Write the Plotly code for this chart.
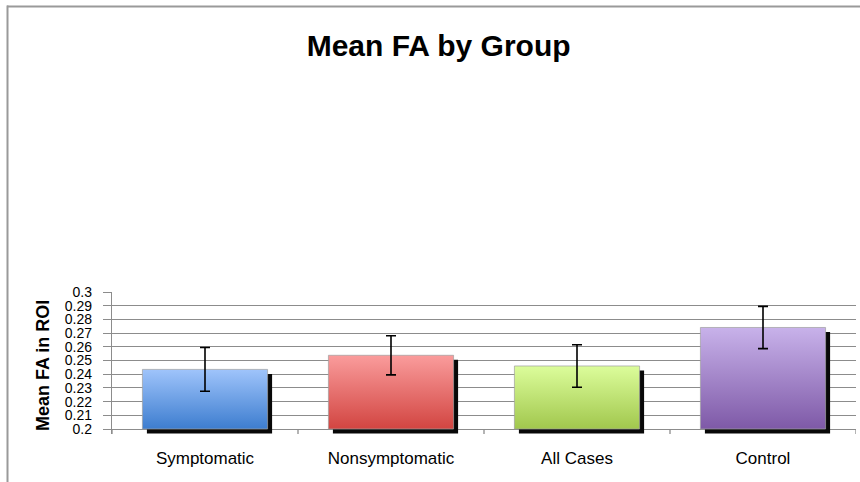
import plotly.graph_objects as go

# ---- data ----
categories = ["Symptomatic", "Nonsymptomatic", "All Cases", "Control"]
mean_fa = [0.2435, 0.2538, 0.2460, 0.2741]
err_fa = [0.0160, 0.0143, 0.0155, 0.0154]
ytick_vals = [0.2, 0.21, 0.22, 0.23, 0.24, 0.25, 0.26, 0.27, 0.28, 0.29, 0.3]
ytick_text = ["0.2", "0.21", "0.22", "0.23", "0.24", "0.25", "0.26", "0.27", "0.28", "0.29", "0.3"]

top_colors = ["#9fc4fb", "#fa9c9c", "#dcfd9b", "#c8b2ea"]
bottom_colors = ["#3d7dcf", "#d24541", "#a1c74d", "#7e59a7"]

FONT = "Liberation Sans"
GRID = "#8c8c8c"
Y_MIN, Y_MAX = 0.2, 0.3
Y_LOW = 0.19635          # range bottom (slightly below 0.2 for shadow/ticks)
BAR_W = 0.673
SH_DX, SH_DY = 0.0242, 0.0033

fig = go.Figure()
xs = list(range(len(categories)))

# shadows
for i, v in enumerate(mean_fa):
    x0 = xs[i] - BAR_W / 2 + SH_DX
    x1 = xs[i] + BAR_W / 2 + SH_DX
    y0 = Y_MIN - SH_DY
    y1 = v - SH_DY
    fig.add_trace(go.Scatter(
        x=[x0, x1, x1, x0, x0], y=[y0, y0, y1, y1, y0],
        fill="toself", fillcolor="#080808", mode="lines",
        line=dict(width=0), hoverinfo="skip", showlegend=False))

# bars with vertical gradient
for i, v in enumerate(mean_fa):
    x0 = xs[i] - BAR_W / 2
    x1 = xs[i] + BAR_W / 2
    fig.add_trace(go.Scatter(
        x=[x0, x1, x1, x0, x0], y=[Y_MIN, Y_MIN, v, v, Y_MIN],
        fill="toself", mode="lines",
        fillgradient=dict(type="vertical", start=Y_MIN, stop=v,
                          colorscale=[[0, bottom_colors[i]], [1, top_colors[i]]]),
        line=dict(width=1, color="rgba(160,160,160,0.7)"),
        name=categories[i], hoverinfo="skip", showlegend=False))

# error bars
fig.add_trace(go.Scatter(
    x=xs, y=mean_fa, mode="markers",
    marker=dict(size=1, opacity=0),
    error_y=dict(type="data", array=err_fa, visible=True,
                 color="black", thickness=1.6, width=5),
    showlegend=False, hovertemplate="%{text}: %{y}<extra></extra>",
    text=categories))

# category boundary ticks on the x axis
bounds = [b - 0.5 for b in range(len(categories) + 1)]
for b in bounds:
    fig.add_shape(type="line", xref="x", yref="y", x0=b, x1=b,
                  y0=Y_MIN, y1=Y_LOW, line=dict(color=GRID, width=1.3))

# outer chart frame (top and left edges)
fig.add_shape(type="line", xref="paper", yref="paper",
              xsizemode="pixel", ysizemode="pixel", xanchor=0, yanchor=1,
              x0=-105, x1=760, y0=285.5, y1=285.5,
              line=dict(color="#9a9a9a", width=2))
fig.add_shape(type="line", xref="paper", yref="paper",
              xsizemode="pixel", ysizemode="pixel", xanchor=0, yanchor=1,
              x0=-104.5, x1=-104.5, y0=286.5, y1=-200,
              line=dict(color="#9a9a9a", width=2))

fig.update_layout(
    width=860, height=482,
    margin=dict(l=112, r=4, t=292, b=48),
    paper_bgcolor="white", plot_bgcolor="white",
    title=dict(text="<b>Mean FA by Group</b>", x=0.51, xanchor="center",
               y=1 - 45 / 482, yanchor="middle", yref="container",
               font=dict(family=FONT, size=30, color="black")),
    xaxis=dict(range=[-0.5, 3.5], tickvals=xs, ticktext=categories,
               showgrid=False, zeroline=False, showline=False, ticks="",
               tickfont=dict(family=FONT, size=17, color="black"),
               ticklabelstandoff=12),
    yaxis=dict(range=[Y_LOW, Y_MAX], tickvals=ytick_vals, ticktext=ytick_text,
               showgrid=True, gridcolor=GRID, gridwidth=1.3, zeroline=False,
               showline=True, linecolor=GRID, linewidth=1.3,
               ticks="outside", ticklen=8, tickcolor=GRID, tickwidth=1.3,
               tickfont=dict(family=FONT, size=14, color="black"),
               ticklabelstandoff=8),
    annotations=[dict(text="<b>Mean FA in ROI</b>", xref="paper", yref="paper",
                      x=0, xshift=-69, y=0.479, xanchor="center", yanchor="middle",
                      textangle=-90, showarrow=False,
                      font=dict(family=FONT, size=18, color="black"))],
)

fig.write_html("out.html",
               config={"displayModeBar": False},
               post_script="document.body.style.margin='0';"
                           "document.body.style.overflow='hidden';")
